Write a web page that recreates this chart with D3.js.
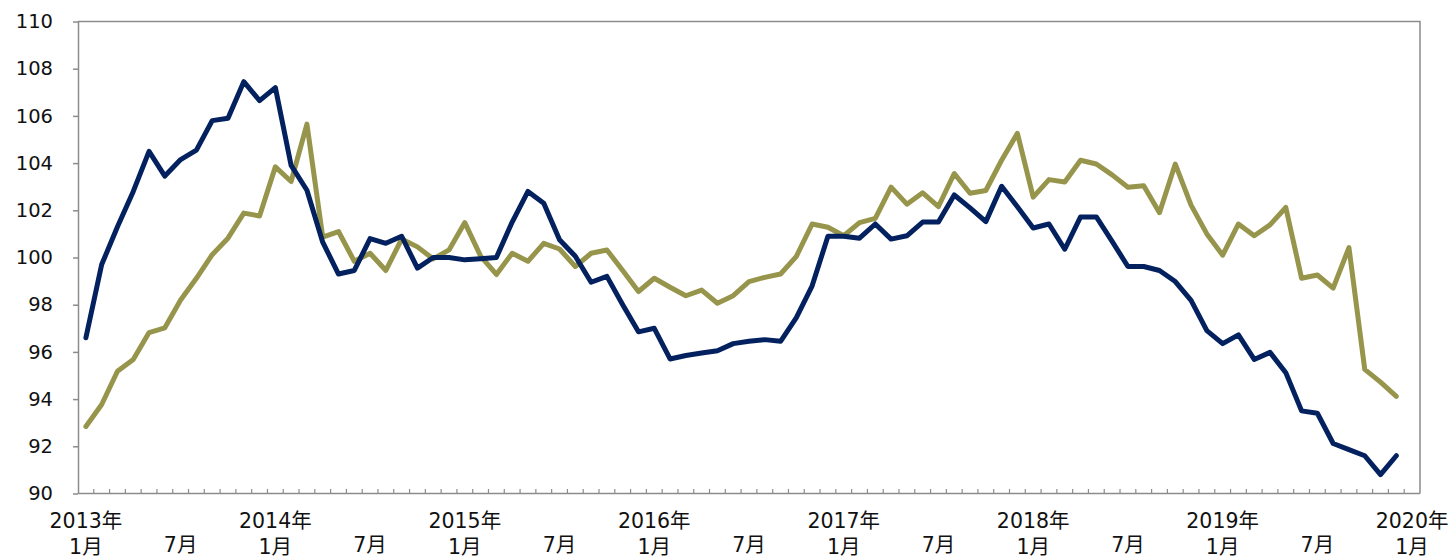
<!DOCTYPE html>
<html>
<head>
<meta charset="utf-8">
<script src="https://cdn.jsdelivr.net/npm/d3@7"></script>
<style>
  html, body { margin: 0; padding: 0; background: #fff; }
  svg { display: block; }
  text { font-family: "DejaVu Sans", Verdana, "Noto Sans CJK JP", sans-serif; fill: #111; }
</style>
</head>
<body>
<svg id="chart" width="1452" height="558"></svg>
<script>
// Monthly index values, Jan 2013 – Dec 2019
const navySeries = [
  96.6, 99.7, 101.3, 102.8, 104.5, 103.45, 104.15, 104.55, 105.8, 105.9, 107.45, 106.65,
  107.2, 103.9, 102.85, 100.65, 99.3, 99.45, 100.8, 100.6, 100.9, 99.55, 100.0, 100.0,
  99.9, 99.95, 100.0, 101.5, 102.8, 102.3, 100.75, 100.05, 98.95, 99.2, 98.0, 96.85,
  97.0, 95.7, 95.85, 95.95, 96.05, 96.35, 96.45, 96.52, 96.45, 97.45, 98.8, 100.9,
  100.9, 100.82, 101.42, 100.78, 100.92, 101.5, 101.5, 102.65, 102.1, 101.52, 103.02, 102.15,
  101.25, 101.42, 100.35, 101.72, 101.72, 100.68, 99.62, 99.62, 99.45, 98.98, 98.18, 96.9,
  96.35, 96.72, 95.68, 95.98, 95.12, 93.5, 93.4, 92.12, 91.86, 91.6, 90.8, 91.6
];
const oliveSeries = [
  92.84, 93.77, 95.18, 95.68, 96.82, 97.02, 98.2, 99.12, 100.12, 100.82, 101.88, 101.76,
  103.84, 103.22, 105.65, 100.86, 101.1, 99.84, 100.18, 99.45, 100.78, 100.45, 99.94, 100.32,
  101.48, 100.06, 99.28, 100.18, 99.84, 100.6, 100.36, 99.62, 100.18, 100.32, 99.45, 98.56,
  99.12, 98.74, 98.38, 98.62, 98.06, 98.38, 98.98, 99.16, 99.3, 100.05, 101.42, 101.28,
  100.92, 101.48, 101.66, 102.98, 102.26, 102.74, 102.16, 103.56, 102.72, 102.84, 104.12, 105.26,
  102.56, 103.3, 103.2, 104.12, 103.96, 103.5, 102.98, 103.04, 101.9, 103.96, 102.22, 101.0,
  100.1, 101.42, 100.92, 101.38, 102.12, 99.12, 99.26, 98.7, 100.42, 95.26, 94.72, 94.12
];

const years = [2013, 2014, 2015, 2016, 2017, 2018, 2019, 2020];
const yearLabels = years.map(y => y + "年");
const yTicks = [90, 92, 94, 96, 98, 100, 102, 104, 106, 108, 110];

// Category axis: one band per month from Jan 2013 to Jan 2020
const months = [];
years.forEach(y => {
  for (let m = 1; m <= 12; m++) {
    if (y === 2020 && m > 1) break;
    months.push(y + "-" + String(m).padStart(2, "0"));
  }
});

const svg = d3.select("#chart");
const margin = { left: 78, right: 32, top: 21.5, bottom: 64.5 };
const W = 1452, H = 558;
const innerW = W - margin.left - margin.right;
const innerH = H - margin.top - margin.bottom;

const x = d3.scaleBand().domain(months).range([margin.left, margin.left + innerW]).padding(0);
const y = d3.scaleLinear().domain([90, 110]).range([margin.top + innerH, margin.top]);
const cx = i => x(months[i]) + x.bandwidth() / 2;

const axisColor = "#8c8c8c";

// plot frame (top and right edges)
svg.append("path")
  .attr("d", `M${margin.left},${margin.top}H${margin.left + innerW}V${margin.top + innerH}`)
  .attr("fill", "none").attr("stroke", axisColor).attr("stroke-width", 1.5);

// y axis
const yAxis = svg.append("g")
  .attr("transform", `translate(${margin.left},0)`)
  .call(d3.axisLeft(y).tickValues(yTicks).tickSize(5).tickPadding(20).tickSizeOuter(0));
yAxis.select(".domain").attr("stroke", axisColor).attr("stroke-width", 1.5);
yAxis.selectAll(".tick line").attr("stroke", axisColor).attr("stroke-width", 1.5);
yAxis.selectAll(".tick text")
  .attr("font-size", 19.5).attr("fill", "#111")
  .style("font-family", '"DejaVu Sans", Verdana, sans-serif');

// x axis: small inward ticks at each month boundary
const xg = svg.append("g").attr("transform", `translate(0,${margin.top + innerH})`);
xg.append("line")
  .attr("x1", margin.left).attr("x2", margin.left + innerW)
  .attr("stroke", axisColor).attr("stroke-width", 1.5);
xg.selectAll("line.tk")
  .data(months.slice(1))
  .join("line")
  .attr("class", "tk")
  .attr("x1", d => x(d)).attr("x2", d => x(d))
  .attr("y1", 0).attr("y2", -4.5)
  .attr("stroke", axisColor).attr("stroke-width", 1.2);

// year labels (January) and month labels (January / July)
const labelFont = 20.5;
months.forEach((m, i) => {
  const mm = +m.slice(5);
  if (mm === 1) {
    const yi = years.indexOf(+m.slice(0, 4));
    svg.append("text")
      .attr("x", cx(i)).attr("y", 528)
      .attr("text-anchor", "middle").attr("font-size", labelFont)
      .text(yearLabels[yi]);
    svg.append("text")
      .attr("x", cx(i)).attr("y", 554)
      .attr("text-anchor", "middle").attr("font-size", labelFont)
      .text("1月");
  } else if (mm === 7) {
    svg.append("text")
      .attr("x", cx(i)).attr("y", 552)
      .attr("text-anchor", "middle").attr("font-size", labelFont)
      .text("7月");
  }
});

// series lines
const line = d3.line().x((d, i) => cx(i)).y(d => y(d));
svg.append("path")
  .datum(oliveSeries)
  .attr("d", line)
  .attr("fill", "none").attr("stroke", "#97954b")
  .attr("stroke-width", 5).attr("stroke-linejoin", "round").attr("stroke-linecap", "round");
svg.append("path")
  .datum(navySeries)
  .attr("d", line)
  .attr("fill", "none").attr("stroke", "#03215f")
  .attr("stroke-width", 5).attr("stroke-linejoin", "round").attr("stroke-linecap", "round");
</script>
</body>
</html>
